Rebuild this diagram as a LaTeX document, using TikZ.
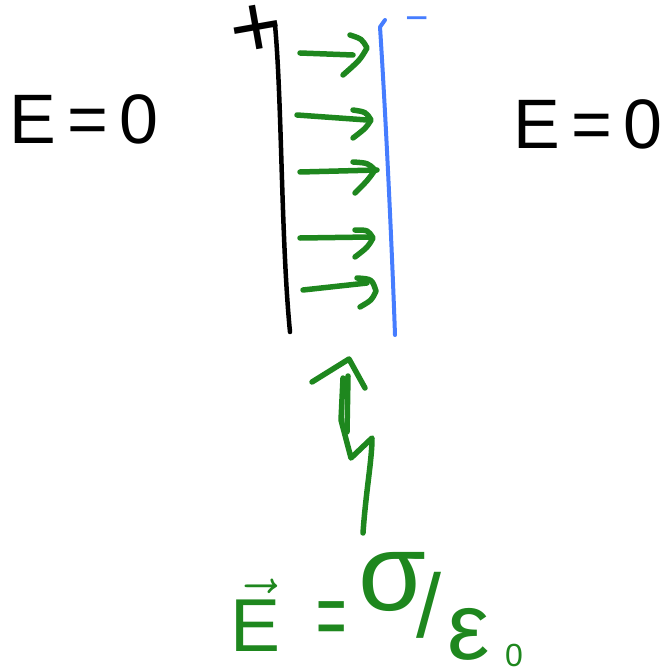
\RequirePackage{fix-cm}
\documentclass[tikz,border=0pt]{standalone}
\usepackage{fontspec}
\setmainfont{Liberation Sans}
\setsansfont{Liberation Sans}
\definecolor{pengreen}{RGB}{30,135,30}
\definecolor{penblue}{RGB}{70,125,255}
\begin{document}
\begin{tikzpicture}[x=1pt,y=-1pt,
  ink/.style={line width=#1, line cap=round, line join=round},
  greenink/.style={ink=5.5pt, draw=pengreen},
  label/.style={inner sep=0pt, outer sep=0pt}]
\useasboundingbox (0,0) rectangle (668,671);
% plates
\draw[ink=4.5pt, black] (275,25) .. controls (282,100) and (281,240) .. (290,332);
\draw[ink=4pt, penblue] (385,20) -- (380,27) .. controls (386,120) and (392,250) .. (395,335);
% charges
\node[label, font=\fontsize{90}{90}\selectfont, rotate=10] (plus) at (257,31) {+};
\node[label, text=penblue, font=\fontsize{40}{40}\selectfont] (minus) at (417,24) {−};
% field arrows between plates
\draw[greenink] (300,53) -- (353,55);
\draw[greenink] (350,35) .. controls (362,39) .. (367,48) .. controls (360,60) .. (343,75);
\draw[greenink] (297,115) -- (367,120);
\draw[greenink] (353,110) .. controls (366,112) .. (371,120) .. controls (366,128) .. (353,138);
\draw[greenink] (300,172) -- (377,170);
\draw[greenink] (353,162) .. controls (368,163) .. (375,170) .. controls (368,180) .. (355,193);
\draw[greenink] (300,238) -- (370,237);
\draw[greenink] (355,230) .. controls (368,230) .. (373,238) .. controls (368,247) .. (355,257);
\draw[greenink] (303,290) -- (367,283);
\draw[greenink] (357,278) .. controls (372,279) .. (376,291) .. controls (372,300) .. (360,307);
% big squiggly arrow
\draw[greenink] (363,533) .. controls (366,490) and (372,460) .. (372,438) -- (351,458) -- (341,420) -- (343,378);
\draw[greenink] (348,376) -- (347,432);
\draw[greenink] (312,382) -- (349,359) -- (365,388);
% E = 0 labels
\node[label, font=\fontsize{70}{70}\selectfont] (eleft) at (84,119) {E\,=\,0};
\node[label, font=\fontsize{70}{70}\selectfont] (eright) at (588,124) {E\,=\,0};
% bottom formula
\node[label, text=pengreen, font=\fontsize{75}{75}\selectfont] (evec) at (256,615) {$\vec{\mathsf{E}}$};
\node[label, text=pengreen, font=\fontsize{52}{52}\selectfont, yscale=1.8] (eqb) at (332,625) {=};
\node[label, text=pengreen, font=\fontsize{110}{110}\selectfont] (sig) at (392,582) {σ};
\node[label, text=pengreen, font=\fontsize{90}{90}\selectfont] (slash) at (429,605) {/};
\node[label, text=pengreen, font=\fontsize{95}{95}\selectfont] (eps) at (469,634) {ε};
\node[label, text=pengreen, font=\fontsize{32}{32}\selectfont] (zero) at (514,655) {0};
\end{tikzpicture}
\end{document}
